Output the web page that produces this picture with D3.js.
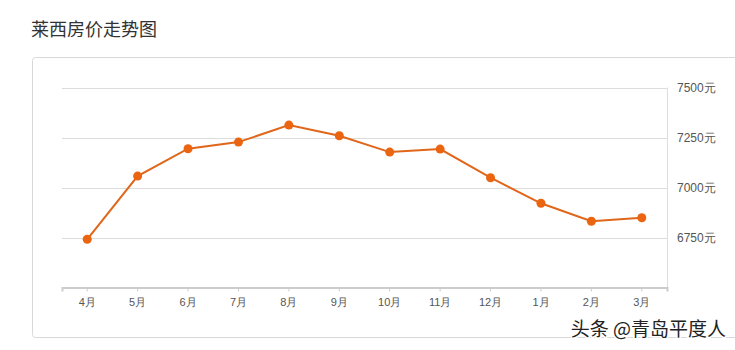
<!DOCTYPE html>
<meta charset="utf-8">
<style>
body { margin: 0; background: #fff; }
svg { display: block; font-family: "Noto Sans CJK SC", "Noto Sans", sans-serif; }
.axis text { fill: #555; font-size: 11px; }
.axis.yax text { font-size: 12px; }
.grid line { stroke: #ddd; stroke-width: 1; }
</style>
<svg width="735" height="350"></svg>
<script src="https://d3js.org/d3.v7.min.js"></script>
<script>

var months = ["4月", "5月", "6月", "7月", "8月", "9月", "10月", "11月", "12月", "1月", "2月", "3月"];
var prices = [6741, 7057, 7194, 7227, 7312, 7259, 7177, 7192, 7049, 6921, 6831, 6849];
var yTicks = [6750, 7000, 7250, 7500];

var svg = d3.select("svg");

// title
svg.append("text")
    .attr("x", 31)
    .attr("y", 36)
    .attr("fill", "#333")
    .style("font-size", "18px")
    .text("莱西房价走势图");

// card
svg.append("rect")
    .attr("x", 32.5)
    .attr("y", 57.5)
    .attr("width", 760)
    .attr("height", 280)
    .attr("rx", 3)
    .attr("fill", "#fff")
    .attr("stroke", "#d8d8d8");

var plotL = 62, plotR = 667, plotT = 87.5, plotB = 287.5;

var x = d3.scaleBand().domain(months).range([plotL, plotR]);
var y = d3.scaleLinear().domain([6500, 7500]).range([plotB, plotT]);

// grid
svg.append("g")
    .attr("class", "grid")
    .selectAll("line")
    .data(yTicks)
    .enter().append("line")
    .attr("x1", plotL)
    .attr("x2", plotR)
    .attr("y1", function(d) { return Math.round(y(d)) + 0.5; })
    .attr("y2", function(d) { return Math.round(y(d)) + 0.5; });

// right border line
svg.append("line")
    .attr("x1", plotR + 0.5).attr("x2", plotR + 0.5)
    .attr("y1", y(7500)).attr("y2", plotB)
    .attr("stroke", "#ddd");

// y axis labels
var yAxis = d3.axisRight(y).tickValues(yTicks).tickSize(0).tickPadding(10)
    .tickFormat(function(d) { return d + "元"; });
svg.append("g")
    .attr("class", "axis yax")
    .attr("transform", "translate(" + plotR + ",0)")
    .call(yAxis)
    .call(function(g) { g.select(".domain").remove(); });

// x axis
var xAxis = d3.axisBottom(x).tickSize(4).tickPadding(7);
var gx = svg.append("g")
    .attr("class", "axis")
    .attr("transform", "translate(0," + plotB + ")")
    .call(xAxis);
gx.select(".domain").attr("stroke", "#ccc").attr("stroke-width", 2);
gx.selectAll(".tick line").attr("stroke", "#ccc");

// line
var cx = function(d, i) { return x(months[i]) + x.bandwidth() / 2; };
var line = d3.line()
    .x(cx)
    .y(function(d) { return y(d); });

svg.append("path")
    .datum(prices)
    .attr("fill", "none")
    .attr("stroke", "#e0661a")
    .attr("stroke-width", 2)
    .attr("d", line);

svg.selectAll(".dot")
    .data(prices)
    .enter().append("circle")
    .attr("class", "dot")
    .attr("cx", cx)
    .attr("cy", function(d) { return y(d); })
    .attr("r", 4.5)
    .attr("fill", "#eb6410");

// watermark
svg.append("text")
    .attr("x", 726)
    .attr("y", 336)
    .attr("text-anchor", "end")
    .attr("fill", "#222")
    .attr("stroke", "#fff")
    .attr("stroke-width", 3)
    .attr("paint-order", "stroke")
    .style("font-size", "19px")
    .text("头条 @青岛平度人");

</script>
